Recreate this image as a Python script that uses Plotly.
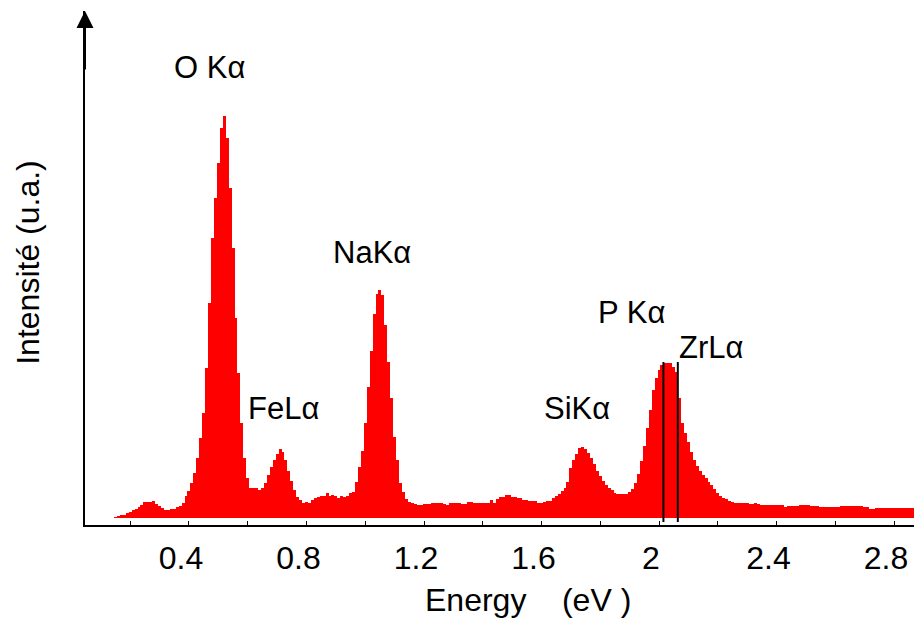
import plotly.graph_objects as go

# ---- data -------------------------------------------------------------
energy_start = 0.15      # eV, first channel
channel_width = 0.01     # eV per channel

intensity = [
    1, 2, 3, 3, 5, 6, 8, 9, 11, 13,                 # 0.15-0.24
    16, 16, 16, 17, 14, 12, 10, 8, 8, 9,            # 0.25-0.34
    9, 11, 12, 15, 22, 27, 35, 45, 60, 80,          # 0.35-0.44
    105, 150, 215, 280, 320, 355, 390, 402, 380, 330,  # 0.45-0.54
    270, 200, 145, 95, 60, 40, 30, 30, 30, 28,      # 0.55-0.64
    30, 35, 43, 51, 58, 64, 69, 66, 58, 47,         # 0.65-0.74
    37, 28, 21, 18, 15, 16, 15, 18, 20, 21,         # 0.75-0.84
    22, 22, 25, 22, 23, 22, 20, 22, 21, 22,         # 0.85-0.94
    25, 26, 36, 51, 67, 95, 131, 167, 204, 224,     # 0.95-1.04
    228, 223, 193, 156, 120, 81, 58, 35, 26, 19,    # 1.05-1.14
    16, 15, 14, 13, 13, 14, 14, 14, 15, 15,         # 1.15-1.24
    15, 15, 14, 13, 15, 15, 15, 15, 14, 14,         # 1.25-1.34
    16, 16, 15, 15, 15, 15, 15, 15, 18, 15,         # 1.35-1.44
    19, 21, 21, 23, 23, 21, 21, 20, 20, 18,         # 1.45-1.54
    18, 17, 17, 17, 15, 15, 16, 17, 17, 20,         # 1.55-1.64
    22, 24, 27, 30, 36, 50, 58, 64, 70, 71,         # 1.65-1.74
    69, 65, 60, 54, 47, 42, 37, 33, 30, 28,         # 1.75-1.84
    25, 24, 24, 24, 24, 26, 29, 35, 44, 57,         # 1.85-1.94
    72, 90, 108, 128, 140, 148, 153, 155, 155, 155, # 1.95-2.04
    151, 146, 120, 95, 85, 76, 66, 58, 52, 47,      # 2.05-2.14
    43, 40, 36, 33, 29, 25, 22, 20, 19, 17,         # 2.15-2.24
    16, 15, 15, 15, 15, 15, 14, 14, 15, 14,         # 2.25-2.34
    13, 13, 13, 13, 13, 13, 13, 13, 11, 12,         # 2.35-2.44
    12, 12, 12, 13, 13, 13, 13, 12, 12, 12,         # 2.45-2.54
    11, 11, 11, 11, 11, 11, 11, 12, 12, 12,         # 2.55-2.64
    12, 12, 12, 12, 12, 11, 11, 9, 9, 10,           # 2.65-2.74
    10, 10, 10, 10, 10, 10, 10, 10, 10, 10,         # 2.75-2.84
    10, 10, 10,                                     # 2.85-2.87
]
energy = [round(energy_start + channel_width * i, 3) for i in range(len(intensity))]

tick_values = [0.2, 0.4, 0.6, 0.8, 1.0, 1.2, 1.4, 1.6, 1.8, 2.0, 2.2, 2.4, 2.6, 2.8]
tick_labels = ["", "0.4", "", "0.8", "", "1.2", "", "1.6", "", "2", "", "2.4", "", "2.8"]

peak_labels = ["O K\u03b1", "FeL\u03b1", "NaK\u03b1", "SiK\u03b1", "P K\u03b1", "ZrL\u03b1"]
peak_label_x = [0.471, 0.723, 1.023, 1.721, 1.905, 2.180]
peak_label_y = [451, 110, 266, 110, 206, 171]

marker_lines_x = [2.015, 2.064]   # P K-alpha and Zr L-alpha positions
marker_line_top = 156

# ---- figure -----------------------------------------------------------
FONT = "Arial, Liberation Sans, sans-serif"

fig = go.Figure()
fig.add_trace(go.Bar(
    x=energy, y=intensity, width=channel_width * 1.02,
    marker=dict(color="#ff0000", line=dict(width=0)),
    hoverinfo="skip",
))

for xv in marker_lines_x:
    fig.add_shape(type="line", xref="x", yref="y", x0=xv, x1=xv,
                  y0=-4, y1=marker_line_top, line=dict(color="black", width=2))

for t, xv, yv in zip(peak_labels, peak_label_x, peak_label_y):
    fig.add_annotation(x=xv, y=yv, xref="x", yref="y", text=t, showarrow=False,
                       xanchor="center", yanchor="middle",
                       font=dict(family=FONT, size=31, color="black"))

# axis titles
fig.add_annotation(x=0.534, y=-0.146, xref="paper", yref="paper",
                   xanchor="center", yanchor="middle",
                   text="Energy\u00a0\u00a0\u00a0\u00a0(eV\u00a0)", showarrow=False,
                   font=dict(family=FONT, size=32, color="black"))
fig.add_annotation(x=-0.0688, y=0.512, xref="paper", yref="paper",
                   xanchor="center", yanchor="middle",
                   text="Intensité (u.a.)", textangle=-90, showarrow=False,
                   font=dict(family=FONT, size=32, color="black"))

# arrow head on y axis
fig.add_annotation(x=0, y=1, xref="paper", yref="paper", ax=0, ay=60,
                   axref="pixel", ayref="pixel", text="", showarrow=True,
                   arrowhead=2, arrowsize=1.7, arrowwidth=2, arrowcolor="black")

fig.update_layout(
    width=914, height=619,
    margin=dict(l=85, r=0, t=11, b=94, pad=0, autoexpand=False),
    paper_bgcolor="white", plot_bgcolor="white",
    showlegend=False, bargap=0,
    xaxis=dict(range=[0.046, 2.868], tickvals=tick_values, ticktext=tick_labels,
               ticks="inside", ticklen=4, tickwidth=1, tickcolor="black",
               showline=True, linecolor="black", linewidth=1.5,
               showgrid=False, zeroline=False, ticklabelstandoff=4,
               ticklabelshift=-8, automargin=False,
               tickfont=dict(family=FONT, size=32, color="black")),
    yaxis=dict(range=[-7, 507], showticklabels=False, ticks="",
               showline=True, linecolor="black", linewidth=2,
               showgrid=False, zeroline=False, automargin=False),
)

fig.write_html("out.html", config={"displayModeBar": False},
               post_script="document.body.style.margin='0';document.body.style.padding='0';")
